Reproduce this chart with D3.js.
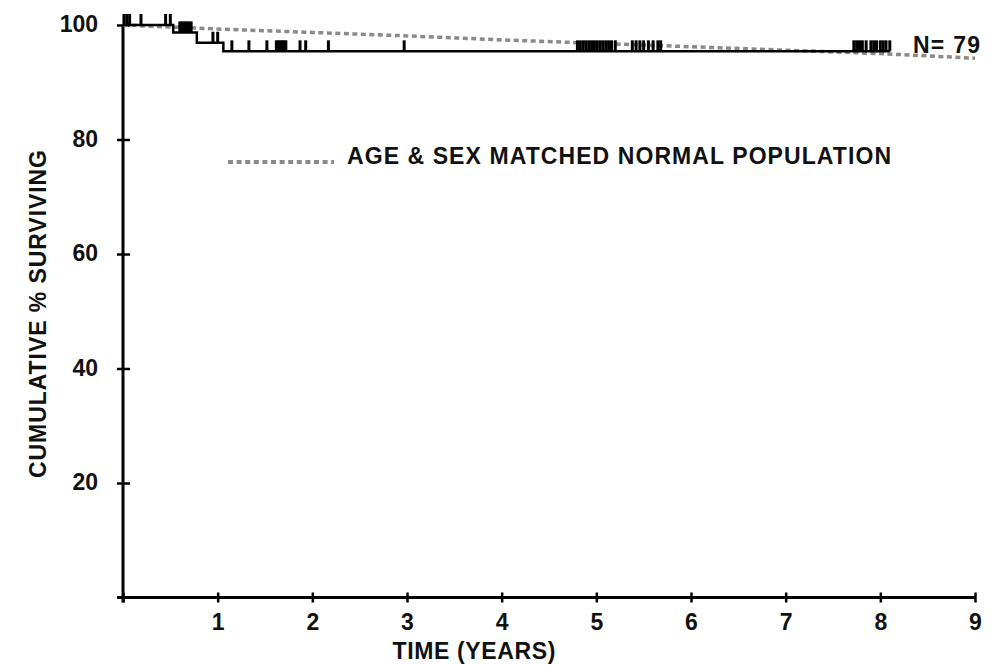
<!DOCTYPE html>
<html>
<head>
<meta charset="utf-8">
<script src="https://cdn.jsdelivr.net/npm/d3@7"></script>
<style>
  body { margin: 0; background: #fff; }
  text { font-family: "Liberation Sans", Arial, sans-serif; font-weight: bold; fill: #111; }
</style>
</head>
<body>
<div class="diagram"></div>
<script>
var width = 997, height = 665;

// Kaplan-Meier steps (time in years, cumulative % surviving)
var kmTimes = [0, 0.53, 0.78, 1.06, 8.1];
var kmValues = [100, 98.7, 96.9, 95.4, 95.4];

// censored observations (years)
var censorTimes = [0.01, 0.04, 0.07, 0.19, 0.45, 0.5,
	0.6, 0.62, 0.64, 0.66, 0.68, 0.7, 0.72,
	0.95, 1.0,
	1.15, 1.33, 1.52, 1.62, 1.64, 1.66, 1.68, 1.7, 1.72, 1.87, 1.93, 2.17,
	2.97,
	4.8, 4.83, 4.86, 4.89, 4.92, 4.95, 4.98, 5.01, 5.04, 5.07, 5.1, 5.13, 5.16, 5.2,
	5.38, 5.42, 5.46, 5.5, 5.55, 5.6, 5.65, 5.68,
	7.72, 7.75, 7.78, 7.81, 7.85, 7.9, 7.93, 7.96, 8.0, 8.03, 8.06, 8.1];

// age & sex matched normal population
var normTimes = [0, 1, 2, 3, 4, 5, 6, 7, 8, 9];
var normValues = [100, 99.3, 98.7, 98.1, 97.4, 96.8, 96.2, 95.6, 95.0, 94.2];

var xTicks = [1, 2, 3, 4, 5, 6, 7, 8, 9];
var yTicks = [20, 40, 60, 80, 100];

var svg = d3.select('.diagram')
	.append('svg')
	.attr('width', width)
	.attr('height', height);

var x = d3.scaleLinear().domain([0, 9]).range([123, 975]);
var y = d3.scaleLinear().domain([0, 100]).range([597.5, 25]);

// axes
var xAxis = svg.append('g')
	.attr('transform', 'translate(0,' + y(0) + ')')
	.call(d3.axisBottom(x).tickValues([0].concat(xTicks)).tickSize(5).tickFormat(function(d) { return d === 0 ? '' : d; }));
xAxis.select('.domain').attr('d', 'M117,0H' + x(9)).attr('stroke', '#000').attr('stroke-width', 3);
xAxis.selectAll('.tick line').attr('y1', -5).attr('y2', 5).attr('stroke', '#000').attr('stroke-width', 2.5);
xAxis.selectAll('.tick text').attr('y', 16).style('font-size', '23px').attr('fill', '#111');

var yAxis = svg.append('g')
	.attr('transform', 'translate(' + x(0) + ',0)')
	.call(d3.axisLeft(y).tickValues(yTicks).tickSize(6));
yAxis.select('.domain').attr('d', 'M0,' + y(100) + 'V' + (y(0) + 5)).attr('stroke', '#000').attr('stroke-width', 3);
yAxis.selectAll('.tick line').attr('x1', -6).attr('x2', 7).attr('stroke', '#000').attr('stroke-width', 2.5);
yAxis.selectAll('.tick text').attr('x', -25).attr('dy', '0.3em').style('font-size', '23px').attr('fill', '#111');

// normal population dotted line
var line = d3.line().x(function(d, i) { return x(normTimes[i]); }).y(function(d) { return y(d); });
svg.append('path')
	.datum(normValues)
	.attr('d', line)
	.attr('fill', 'none')
	.attr('stroke', '#8a8a8a')
	.attr('stroke-width', 3.5)
	.attr('stroke-dasharray', '5,3.5');

// KM step curve
var step = d3.line().curve(d3.curveStepAfter)
	.x(function(d, i) { return x(kmTimes[i]); }).y(function(d) { return y(d); });
svg.append('path')
	.datum(kmValues)
	.attr('d', step)
	.attr('fill', 'none')
	.attr('stroke', '#000')
	.attr('stroke-width', 2.5);

function survAt(t) {
	var v = 100;
	kmTimes.forEach(function(k, i) { if (t >= k) v = kmValues[i]; });
	return v;
}

svg.append('g')
	.selectAll('line')
	.data(censorTimes)
	.enter().append('line')
	.attr('x1', function(d) { return x(d); })
	.attr('x2', function(d) { return x(d); })
	.attr('y1', function(d) { return y(survAt(d)); })
	.attr('y2', function(d) { return y(survAt(d)) - 11; })
	.attr('stroke', '#000')
	.attr('stroke-width', 3);

// N label
svg.append('text')
	.attr('x', 913)
	.attr('y', 53)
	.style('font-size', '23px')
	.attr('textLength', 67)
	.text('N= 79');

// legend
svg.append('line')
	.attr('x1', 228).attr('x2', 334)
	.attr('y1', 162).attr('y2', 162)
	.attr('stroke', '#8a8a8a')
	.attr('stroke-width', 4)
	.attr('stroke-dasharray', '5,3.6');
svg.append('text')
	.attr('x', 347)
	.attr('y', 164)
	.style('font-size', '23px')
	.attr('textLength', 544)
	.text('AGE & SEX MATCHED NORMAL POPULATION');

// axis titles
svg.append('text')
	.attr('x', 474)
	.attr('y', 659)
	.attr('text-anchor', 'middle')
	.style('font-size', '23px')
	.attr('textLength', 163)
	.text('TIME (YEARS)');

svg.append('text')
	.attr('transform', 'translate(46,314) rotate(-90)')
	.attr('text-anchor', 'middle')
	.style('font-size', '23px')
	.attr('textLength', 328)
	.text('CUMULATIVE % SURVIVING');
</script>
</body>
</html>
